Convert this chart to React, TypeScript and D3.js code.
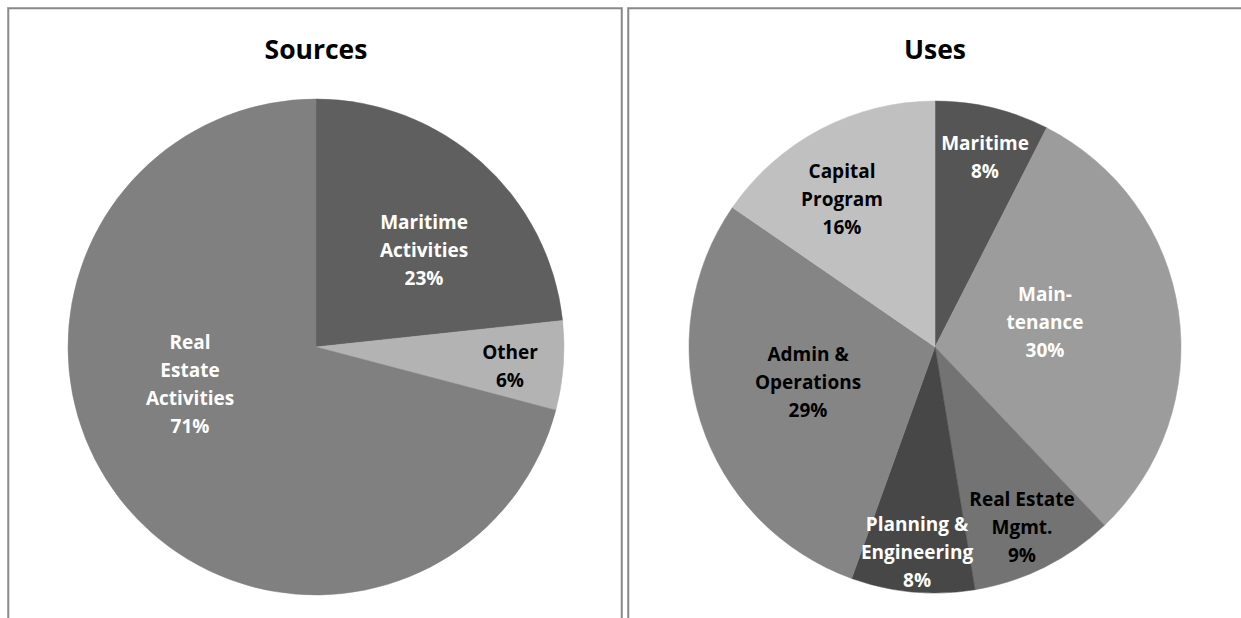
import React from "react";
import * as d3 from "d3";

// ---- data ----
const sourceCategories = ["Maritime Activities", "Other", "Real Estate Activities"];
const sourceValues = [23.3, 5.8, 70.9];
const sourceLabels = [["Maritime", "Activities", "23%"], ["Other", "6%"], ["Real", "Estate", "Activities", "71%"]];

const useCategories = ["Maritime", "Maintenance", "Real Estate Mgmt.", "Planning & Engineering", "Admin & Operations", "Capital Program"];
const useValues = [7.5, 30.4, 9.5, 8.1, 29.1, 15.4];
const useLabels = [
  ["Maritime", "8%"],
  ["Main-", "tenance", "30%"],
  ["Real Estate", "Mgmt.", "9%"],
  ["Planning &", "Engineering", "8%"],
  ["Admin &", "Operations", "29%"],
  ["Capital", "Program", "16%"],
];

// ---- styles / layout ----
const sourceColors = ["#5f5f5f", "#b3b3b3", "#808080"];
const sourceTextColors = ["#ffffff", "#000000", "#ffffff"];
const sourceLabelOffsets = [[108, -97], [194, 19], [-126, 37]];

const useColors = ["#555555", "#9c9c9c", "#737373", "#474747", "#858585", "#c0c0c0"];
const useTextColors = ["#ffffff", "#ffffff", "#000000", "#ffffff", "#000000", "#000000"];
const useLabelOffsets = [[50, -190], [110, -25], [87, 180], [-18, 205], [-127, 35], [-93, -148]];

const FONT = "'Open Sans', 'DejaVu Sans', sans-serif";
const LINE = 28;

type PieProps = {
  title: string;
  cx: number;
  cy: number;
  r: number;
  values: number[];
  cats: string[];
  colors: string[];
  labels: string[][];
  textColors: string[];
  offsets: number[][];
};

function Pie({ title, cx, cy, r, values, cats, colors, labels, textColors, offsets }: PieProps) {
  const pie = d3.pie<number>().sort(null).value((d) => d);
  const arcs = pie(values);
  const arc = d3.arc<d3.PieArcDatum<number>>().innerRadius(0).outerRadius(r);
  return (
    <g>
      <text x={cx} y={59} textAnchor="middle" fontFamily={FONT} fontWeight="bold" fontSize={26.5} fill="#000">
        {title}
      </text>
      <g transform={`translate(${cx},${cy})`}>
        {arcs.map((a, i) => (
          <path key={cats[i]} d={arc(a) || ""} fill={colors[i]} stroke={colors[i]} strokeWidth={0.5} />
        ))}
        {arcs.map((a, i) => {
          const lines = labels[i];
          const [ox, oy] = offsets[i];
          const start = oy - ((lines.length - 1) * LINE) / 2;
          return (
            <text
              key={"l" + i}
              textAnchor="middle"
              fontFamily={FONT}
              fontWeight="bold"
              fontSize={19}
              fill={textColors[i]}
              dominantBaseline="central"
            >
              {lines.map((ln, j) => (
                <tspan key={j} x={ox} y={start + j * LINE}>
                  {ln}
                </tspan>
              ))}
            </text>
          );
        })}
      </g>
    </g>
  );
}

export default function App() {
  return (
    <svg
      width={1241}
      height={618}
      style={{ position: "absolute", left: 0, top: 0, background: "#fff" }}
    >
      <rect x={0} y={0} width={1241} height={618} fill="#fff" />
      {/* panel frames */}
      <rect x={7.5} y={7.5} width={615} height={700} fill="none" stroke="#b0b0b0" strokeWidth={1} />
      <rect x={8.5} y={8.5} width={613} height={700} fill="none" stroke="#888888" strokeWidth={1.5} />
      <rect x={627.5} y={7.5} width={700} height={700} fill="none" stroke="#b0b0b0" strokeWidth={1} />
      <rect x={628.5} y={8.5} width={700} height={700} fill="none" stroke="#888888" strokeWidth={1.5} />
      <Pie
        title="Sources"
        cx={316}
        cy={347}
        r={248}
        values={sourceValues}
        cats={sourceCategories}
        colors={sourceColors}
        labels={sourceLabels}
        textColors={sourceTextColors}
        offsets={sourceLabelOffsets}
      />
      <Pie
        title="Uses"
        cx={935}
        cy={347}
        r={246}
        values={useValues}
        cats={useCategories}
        colors={useColors}
        labels={useLabels}
        textColors={useTextColors}
        offsets={useLabelOffsets}
      />
    </svg>
  );
}
